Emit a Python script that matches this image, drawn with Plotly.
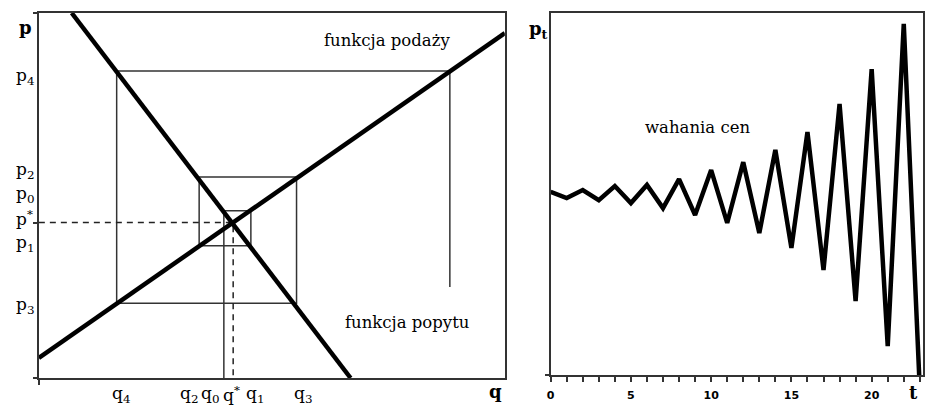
import plotly.graph_objects as go

# --- cobweb diagram (left panel), quantity q and price p in model units 0..10 ---
supply_q = [0.0, 10.0]
supply_p = [0.55, 9.45]
demand_q = [0.705, 6.69]
demand_p = [10.0, 0.0]

# successive quantities q0..q5 and prices p0..p4
q_vals = [3.97, 4.55, 3.44, 5.53, 1.67, 8.82]
p_vals = [4.58, 3.62, 5.51, 2.05, 8.41]
p_tail = 2.49          # where the last vertical segment stops
q_star, p_star = 4.17, 4.26

# --- price oscillations over time (right panel) ---
t_vals = list(range(24))
pt_vals = [5.06, 4.89, 5.11, 4.83, 5.22, 4.75, 5.25, 4.61, 5.41, 4.42, 5.66, 4.20,
           5.88, 3.92, 6.22, 3.51, 6.71, 2.90, 7.49, 2.04, 8.45, 0.80, 9.70, -0.41]
t_ticklabels = {0: "0", 5: "5", 10: "10", 15: "15", 20: "20"}

W, H = 929, 407
SERIF = "DejaVu Serif"
THIN = "#333333"

# cobweb path: up from q0 to demand, then alternate supply / demand
web_x = [q_vals[0], q_vals[0]]
web_y = [0.0, p_vals[0]]
for i, p in enumerate(p_vals):
    web_x += [q_vals[i + 1]]
    web_y += [p]
    nxt = p_vals[i + 1] if i + 1 < len(p_vals) else p_tail
    web_x += [q_vals[i + 1]]
    web_y += [nxt]

fig = go.Figure()
fig.add_trace(go.Scatter(x=web_x, y=web_y, mode="lines",
                         line=dict(color=THIN, width=1.5), xaxis="x", yaxis="y"))
fig.add_trace(go.Scatter(x=[0, q_star, q_star], y=[p_star, p_star, 0], mode="lines",
                         line=dict(color="#222", width=1.5, dash="6px,5px"),
                         xaxis="x", yaxis="y"))
fig.add_trace(go.Scatter(x=supply_q, y=supply_p, mode="lines",
                         line=dict(color="black", width=4.5), xaxis="x", yaxis="y"))
fig.add_trace(go.Scatter(x=demand_q, y=demand_p, mode="lines",
                         line=dict(color="black", width=4.5), xaxis="x", yaxis="y"))

fig.add_trace(go.Scatter(x=t_vals, y=pt_vals, mode="lines",
                         line=dict(color="black", width=4.5), xaxis="x2", yaxis="y2"))

axis_common = dict(showgrid=False, zeroline=False, showline=True, mirror=True,
                   linecolor=THIN, linewidth=1.5, ticks="outside", tickcolor=THIN,
                   tickwidth=1.5, fixedrange=True)

fig.update_layout(
    width=W, height=H, margin=dict(l=0, r=0, t=0, b=0),
    paper_bgcolor="white", plot_bgcolor="white", showlegend=False,
    xaxis=dict(domain=[35 / W, 503 / W], range=[0, 10], tickvals=[0], ticklen=5,
               showticklabels=False, anchor="y", **axis_common),
    yaxis=dict(domain=[29 / H, 394 / H], range=[0, 10], tickvals=[0, p_star, 10],
               ticklen=4, showticklabels=False, anchor="x", **axis_common),
    xaxis2=dict(domain=[549 / W, 923 / W], range=[0, 23.2], tickvals=t_vals,
                ticktext=[t_ticklabels.get(t, "") for t in t_vals], ticklen=5,
                ticklabelstandoff=4,
                tickfont=dict(family="DejaVu Sans", size=11, color="black", weight="bold"),
                anchor="y2", **axis_common),
    yaxis2=dict(domain=[32 / H, 394 / H], range=[0, 10], tickvals=[0], ticklen=4,
                showticklabels=False, anchor="x2", **axis_common),
)

font = dict(family=SERIF, size=16.5, color="black")
lab = dict(family=SERIF, size=17, color="black")
bold = dict(family=SERIF, size=18, color="black")

ann = []
# price labels on the left axis (spread apart where crowded)
p_labels = [("p<sub>4</sub>", 76), ("p<sub>2</sub>", 170), ("p<sub>0</sub>", 194),
            ("p<sup>*</sup>", 218), ("p<sub>1</sub>", 243), ("p<sub>3</sub>", 305)]
for txt, ypx in p_labels:
    ann.append(dict(x=10 / W, y=1 - ypx / H, text=txt, xanchor="left", font=lab))
# quantity labels below the axis
q_labels = [("q<sub>4</sub>", 118), ("q<sub>2</sub>", 186), ("q<sub>0</sub>", 207),
            ("q<sup>*</sup>", 228), ("q<sub>1</sub>", 252), ("q<sub>3</sub>", 300)]
for txt, xpx in q_labels:
    ann.append(dict(x=xpx / W, y=1 - 394 / H, text=txt, font=lab))

ann += [
    dict(x=22 / W, y=1 - 27 / H, text="<b>p</b>", font=bold),
    dict(x=494 / W, y=1 - 391 / H, text="<b>q</b>", font=bold),
    dict(x=385 / W, y=1 - 40 / H, text="funkcja podaży", font=font),
    dict(x=405 / W, y=1 - 322 / H, text="funkcja popytu", font=font),
    dict(x=537 / W, y=1 - 30 / H, text="<b>p<sub>t</sub></b>", font=bold),
    dict(x=913 / W, y=1 - 392 / H, text="<b>t</b>", font=bold),
    dict(x=697 / W, y=1 - 128 / H, text="wahania cen", font=font),
]
for a in ann:
    a.setdefault("xref", "paper")
    a.setdefault("yref", "paper")
    a.setdefault("showarrow", False)
    a.setdefault("xanchor", "center")
    a.setdefault("yanchor", "middle")
fig.update_layout(annotations=ann)

fig.write_html("out.html")
